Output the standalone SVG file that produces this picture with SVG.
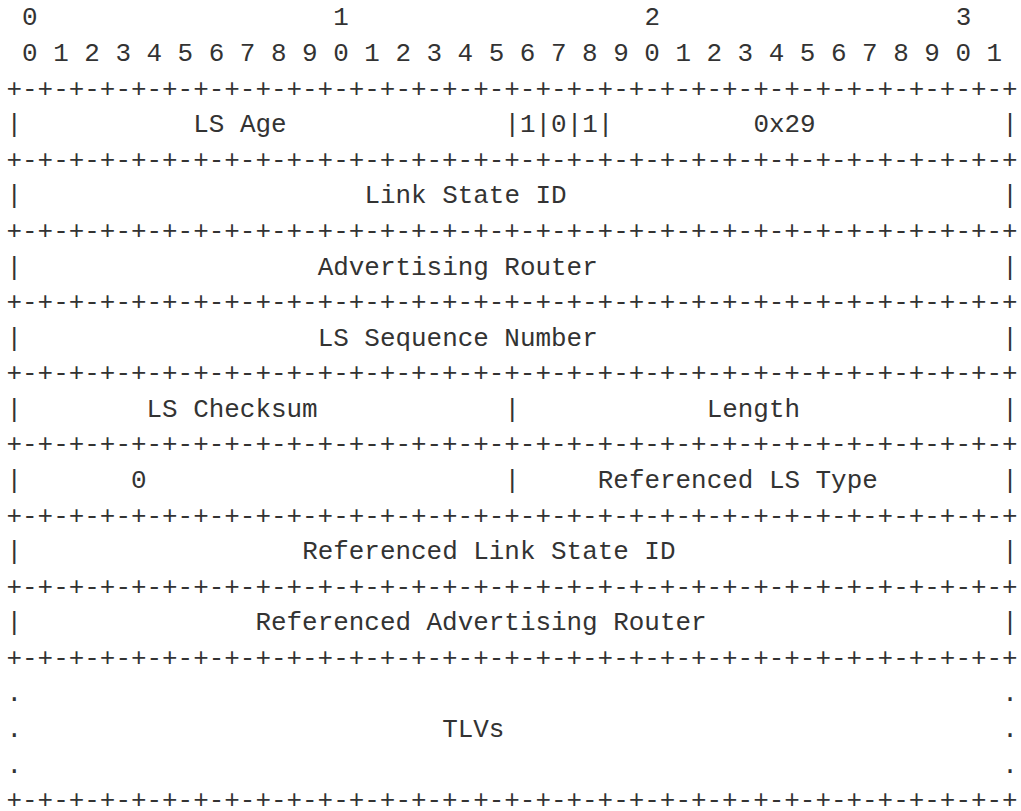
<svg xmlns="http://www.w3.org/2000/svg" width="1021" height="811" viewBox="0 0 1021 811">
<style>
text{font-family:"Liberation Mono","DejaVu Sans Mono",monospace;font-size:25.93px;fill:#333333;white-space:pre}
</style>
<rect x="0" y="0" width="1021" height="811" fill="#ffffff"/>
<g id="bit-ruler">
<text x="22.06" y="25.4">0</text>
<text x="333.26" y="25.4">1</text>
<text x="644.46" y="25.4">2</text>
<text x="955.66" y="25.4">3</text>
<text x="22.06" y="61.0">0 1 2 3 4 5 6 7 8 9 0 1 2 3 4 5 6 7 8 9 0 1 2 3 4 5 6 7 8 9 0 1</text>
</g>
<g id="connectors">
<text x="6.5" y="96.6">+-+-+-+-+-+-+-+-+-+-+-+-+-+-+-+-+-+-+-+-+-+-+-+-+-+-+-+-+-+-+-+-+</text>
<text x="6.5" y="167.7">+-+-+-+-+-+-+-+-+-+-+-+-+-+-+-+-+-+-+-+-+-+-+-+-+-+-+-+-+-+-+-+-+</text>
<text x="6.5" y="238.9">+-+-+-+-+-+-+-+-+-+-+-+-+-+-+-+-+-+-+-+-+-+-+-+-+-+-+-+-+-+-+-+-+</text>
<text x="6.5" y="310.0">+-+-+-+-+-+-+-+-+-+-+-+-+-+-+-+-+-+-+-+-+-+-+-+-+-+-+-+-+-+-+-+-+</text>
<text x="6.5" y="381.2">+-+-+-+-+-+-+-+-+-+-+-+-+-+-+-+-+-+-+-+-+-+-+-+-+-+-+-+-+-+-+-+-+</text>
<text x="6.5" y="452.4">+-+-+-+-+-+-+-+-+-+-+-+-+-+-+-+-+-+-+-+-+-+-+-+-+-+-+-+-+-+-+-+-+</text>
<text x="6.5" y="523.5">+-+-+-+-+-+-+-+-+-+-+-+-+-+-+-+-+-+-+-+-+-+-+-+-+-+-+-+-+-+-+-+-+</text>
<text x="6.5" y="594.7">+-+-+-+-+-+-+-+-+-+-+-+-+-+-+-+-+-+-+-+-+-+-+-+-+-+-+-+-+-+-+-+-+</text>
<text x="6.5" y="665.8">+-+-+-+-+-+-+-+-+-+-+-+-+-+-+-+-+-+-+-+-+-+-+-+-+-+-+-+-+-+-+-+-+</text>
<text x="6.5" y="808.2">+-+-+-+-+-+-+-+-+-+-+-+-+-+-+-+-+-+-+-+-+-+-+-+-+-+-+-+-+-+-+-+-+</text>
</g>
<g id="row-ls-age">
<text x="6.5" y="132.1">|</text>
<text x="193.22" y="132.1">LS Age</text>
<text x="504.42" y="132.1">|1|0|1|</text>
<text x="753.38" y="132.1">0x29</text>
<text x="1002.34" y="132.1">|</text>
</g>
<g id="row-link-state-id">
<text x="6.5" y="203.3">|</text>
<text x="364.38" y="203.3">Link State ID</text>
<text x="1002.34" y="203.3">|</text>
</g>
<g id="row-advertising-router">
<text x="6.5" y="274.5">|</text>
<text x="317.7" y="274.5">Advertising Router</text>
<text x="1002.34" y="274.5">|</text>
</g>
<g id="row-ls-sequence">
<text x="6.5" y="345.6">|</text>
<text x="317.7" y="345.6">LS Sequence Number</text>
<text x="1002.34" y="345.6">|</text>
</g>
<g id="row-checksum-length">
<text x="6.5" y="416.8">|</text>
<text x="146.54" y="416.8">LS Checksum</text>
<text x="504.42" y="416.8">|</text>
<text x="706.7" y="416.8">Length</text>
<text x="1002.34" y="416.8">|</text>
</g>
<g id="row-ref-ls-type">
<text x="6.5" y="488.0">|</text>
<text x="130.98" y="488.0">0</text>
<text x="504.42" y="488.0">|</text>
<text x="597.78" y="488.0">Referenced LS Type</text>
<text x="1002.34" y="488.0">|</text>
</g>
<g id="row-ref-link-state-id">
<text x="6.5" y="559.1">|</text>
<text x="302.14" y="559.1">Referenced Link State ID</text>
<text x="1002.34" y="559.1">|</text>
</g>
<g id="row-ref-adv-router">
<text x="6.5" y="630.3">|</text>
<text x="255.46" y="630.3">Referenced Advertising Router</text>
<text x="1002.34" y="630.3">|</text>
</g>
<g id="row-tlvs">
<text x="6.5" y="701.4">.</text>
<text x="1002.34" y="701.4">.</text>
<text x="6.5" y="737.0">.</text>
<text x="442.18" y="737.0">TLVs</text>
<text x="1002.34" y="737.0">.</text>
<text x="6.5" y="772.6">.</text>
<text x="1002.34" y="772.6">.</text>
</g>
</svg>
